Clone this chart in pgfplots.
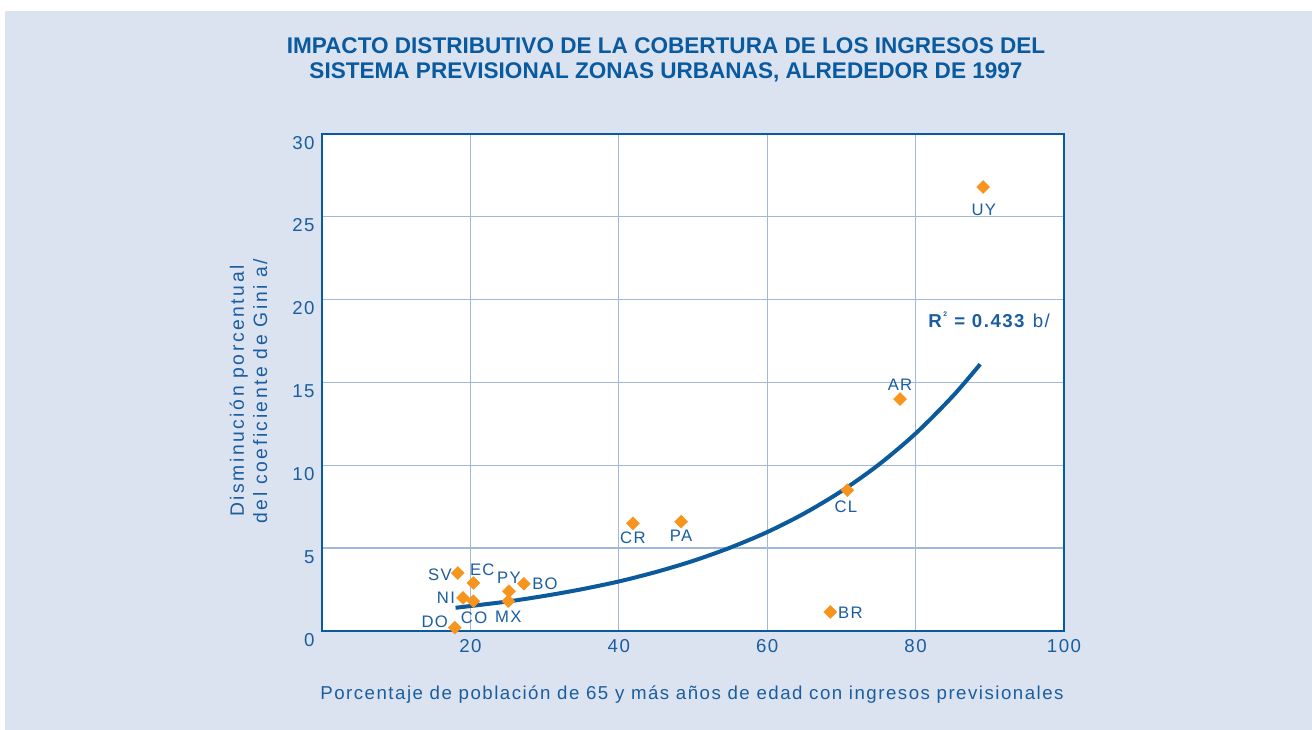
\documentclass[border=0pt]{standalone}
\usepackage{fontspec}
\setmainfont{Liberation Sans}
\newfontfamily\titlefont{Liberation Sans}[FakeStretch=0.995]
\newfontfamily\spfont{Liberation Sans}[LetterSpace=8]
\newfontfamily\ylfont{Liberation Sans}[LetterSpace=13]
\usepackage{pgfplots}
\pgfplotsset{compat=1.18}
\definecolor{bgc}{HTML}{DCE3F0}
\definecolor{frame}{HTML}{0A5AA0}
\definecolor{txt}{HTML}{1A5DA0}
\definecolor{gridc}{HTML}{A3B7DB}
\definecolor{orng}{HTML}{F7941D}
\definecolor{curve}{HTML}{0A5A9C}
\pgfplotstableread{
x y
89.1 26.8
77.9 14.0
70.8 8.5
68.5 1.15
41.9 6.5
48.4 6.6
18.3 3.5
20.4 2.9
19.0 2.0
20.4 1.8
25.2 2.4
27.2 2.85
25.1 1.8
17.9 0.2
}\points
\pgfplotstableread{
x y
18 1.40
25 1.78
30 2.12
35 2.52
40 2.99
45 3.56
50 4.23
55 5.03
60 5.97
65 7.10
70 8.44
75 10.03
80 11.92
85 14.17
88.7 16.10
}\fit
\begin{document}
\begin{tikzpicture}[x=0.75pt,y=0.75pt]
\fill[white] (0,0) rectangle (1312,730);
\fill[bgc] (5,0) rectangle (1312,719);
\coordinate (O) at (322,99);
\node[font=\titlefont\bfseries\fontsize{17}{19}\selectfont, text=frame, align=center] at (666,670) {IMPACTO DISTRIBUTIVO DE LA COBERTURA DE LOS INGRESOS DEL\\SISTEMA PREVISIONAL ZONAS URBANAS, ALREDEDOR DE 1997};
\begin{axis}[at={(O)}, anchor=origin,
  scale only axis, width=556.5pt, height=372.75pt,
  xmin=0, xmax=100, ymin=0, ymax=30,
  xtick={20,40,60,80,100}, ytick={0,5,10,15,20,25,30},
  major tick length=0pt,
  grid=major, major grid style={draw=gridc, line width=1pt},
  axis background/.style={fill=white},
  axis line style={draw=frame, line width=2.2pt},
  tick label style={font=\spfont\fontsize{14}{16}\selectfont, text=txt},
  /pgf/number format/assume math mode=true,
  yticklabel style={yshift=-6.5pt, xshift=-2pt},
  xticklabel style={yshift=-3pt},
  clip=false]
\addplot[curve, line width=3pt, smooth] table {\fit};
\addplot[only marks, mark=square*, mark size=3.4pt, mark options={rotate=45, fill=orng, draw=orng}] table {\points};
\begin{scope}[font=\spfont\fontsize{12.5}{14}\selectfont, text=txt]
\node at (axis cs:89.2,25.4) {UY};
\node at (axis cs:77.9,14.85) {AR};
\node at (axis cs:70.6,7.48) {CL};
\node at (axis cs:71.2,1.09) {BR};
\node at (axis cs:41.9,5.61) {CR};
\node at (axis cs:48.4,5.73) {PA};
\node at (axis cs:15.9,3.38) {SV};
\node at (axis cs:21.6,3.68) {EC};
\node at (axis cs:16.7,1.99) {NI};
\node at (axis cs:20.5,0.78) {CO};
\node at (axis cs:25.2,3.2) {PY};
\node at (axis cs:30.05,2.84) {BO};
\node at (axis cs:25.1,0.84) {MX};
\node at (axis cs:15.2,0.54) {DO};
\end{scope}
\node[anchor=west, font=\spfont\fontsize{14}{16}\selectfont, text=txt] at (axis cs:81.1,18.8) {\textbf{R}\raisebox{1.1ex}{\fontsize{5}{6}\selectfont\textbf{2}} \textbf{= 0.433} b/};
\end{axis}
\node[font=\spfont\fontsize{14}{16}\selectfont, text=txt] at (692,35) {Porcentaje de población de 65 y más años de edad con ingresos previsionales};
\node[rotate=90, align=center, font=\ylfont\fontsize{14.5}{17.3}\selectfont, text=txt] at (248.5,339) {Disminución porcentual\\del coeficiente de Gini a/};
\end{tikzpicture}
\end{document}
